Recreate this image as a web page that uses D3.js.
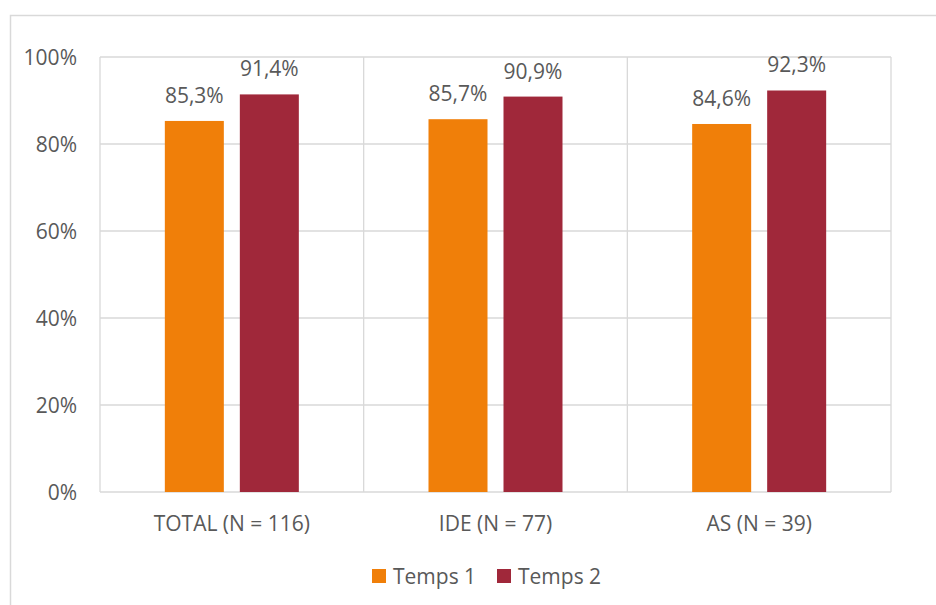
<!DOCTYPE html>
<html><head><meta charset="utf-8">
<script src="https://cdn.jsdelivr.net/npm/d3@7"></script>
<style>body{margin:0;background:#fff}svg{display:block}text{font-family:"Open Sans",sans-serif;fill:#595959}</style>
</head><body><svg id="c" width="936" height="605"></svg>
<script>
const categories = ["TOTAL (N = 116)", "IDE (N = 77)", "AS (N = 39)"];
const seriesNames = ["Temps 1", "Temps 2"];
const temps1 = [85.3, 85.7, 84.6];
const temps2 = [91.4, 90.9, 92.3];
const yTicks = [0, 20, 40, 60, 80, 100];
const colors = ["#F07F09", "#A0283A"];
const FS = "21px";

const svg = d3.select("#c");
svg.append("rect").attr("x",10.5).attr("y",15.5).attr("width",940).attr("height",600)
  .attr("fill","none").attr("stroke","#d9d9d9").attr("stroke-width",1.5);

const L=100, R=891, T=57, B=492;
const x = d3.scaleBand().domain(categories).range([L,R]);
const y = d3.scaleLinear().domain([0,100]).range([B,T]);
const x1 = d3.scaleBand().domain(seriesNames).range([0,134]).paddingInner(16/75);

const g = svg.append("g");
g.selectAll(".hg").data(yTicks).join("line")
  .attr("x1",L).attr("x2",R).attr("y1",d=>y(d)).attr("y2",d=>y(d))
  .attr("stroke","#d9d9d9").attr("stroke-width",1.3);
const bounds = categories.map(c=>x(c)).concat([R]);
g.selectAll(".vg").data(bounds).join("line")
  .attr("x1",d=>d).attr("x2",d=>d).attr("y1",T).attr("y2",B)
  .attr("stroke","#d9d9d9").attr("stroke-width",1.3);

const yAxis = d3.axisLeft(y).tickValues(yTicks).tickFormat(d=>d+"%").tickSize(0).tickPadding(0);
const ya = svg.append("g").attr("transform","translate(77,0)").call(yAxis);
ya.select(".domain").remove();
ya.selectAll("text").style("font-size",FS).attr("fill","#595959").attr("dy","0.36em").style("font-family",'"Open Sans",sans-serif');

const xAxis = d3.axisBottom(x).tickSize(0).tickPadding(0);
const xa = svg.append("g").attr("transform","translate(0,531)").call(xAxis);
xa.select(".domain").remove();
xa.selectAll("text").attr("dy",0).style("font-size",FS).attr("fill","#595959").style("font-family",'"Open Sans",sans-serif');

const data = categories.map((c,i)=>({c, vals:[{s:seriesNames[0],v:temps1[i],k:0},{s:seriesNames[1],v:temps2[i],k:1}]}));
const grp = svg.selectAll(".cat").data(data).join("g")
  .attr("transform",d=>`translate(${x(d.c)+x.bandwidth()/2-67},0)`);
grp.selectAll("rect").data(d=>d.vals).join("rect")
  .attr("x",d=>x1(d.s)).attr("width",x1.bandwidth())
  .attr("y",d=>y(d.v)).attr("height",d=>y(0)-y(d.v)).attr("fill",d=>colors[d.k]);
grp.selectAll("text").data(d=>d.vals).join("text")
  .attr("x",d=>x1(d.s)+x1.bandwidth()/2).attr("y",d=>y(d.v)-18)
  .attr("text-anchor","middle").style("font-size",FS)
  .text(d=>d3.format(".1f")(d.v).replace(".",",")+"%");

const leg = svg.append("g");
const lx = [372, 497];
seriesNames.forEach((s,i)=>{
  leg.append("rect").attr("x",lx[i]).attr("y",569).attr("width",14).attr("height",14).attr("fill",colors[i]);
  leg.append("text").attr("x",lx[i]+21).attr("y",584).style("font-size",FS).text(s);
});
</script></body></html>
